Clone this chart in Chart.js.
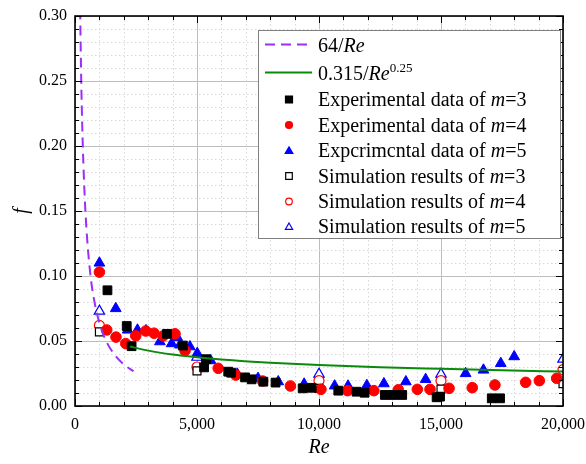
<!DOCTYPE html>
<html>
<head>
<meta charset="utf-8">
<script src="https://cdn.jsdelivr.net/npm/chart.js@4/dist/chart.umd.min.js"></script>
<style>
  body { margin: 0; background: #fff; }
  canvas { display: block; }
</style>
</head>
<body>
<canvas id="chart" width="586" height="464"></canvas>
<script>
// ---- data ----
// 64/Re (laminar)
const laminarRe = [210, 260, 320, 400, 500, 650, 800, 1000, 1250, 1600, 2000, 2400];
const laminarF  = [0.305, 0.246, 0.2, 0.16, 0.128, 0.098, 0.08, 0.064, 0.051, 0.04, 0.032, 0.0267];

// 0.315/Re^0.25
const blasiusRe = [2250, 3000, 4000, 5000, 6000, 8000, 10000, 12500, 15000, 17500, 20000];
const blasiusF  = [0.0458, 0.0426, 0.0396, 0.0375, 0.0358, 0.0333, 0.0315, 0.0298, 0.0286, 0.0275, 0.0265];

// experimental data
const expRe3 = [1330, 2120, 2320, 3770, 4420, 5290, 5370, 6280, 6400, 6970, 7240, 7720, 8220, 9330, 9700, 10790, 11540, 11870, 12700, 13050, 13410, 14820, 14960, 17080, 17420];
const expF3  = [0.089, 0.0615, 0.046, 0.0555, 0.0465, 0.0297, 0.036, 0.0264, 0.0256, 0.022, 0.0205, 0.0187, 0.018, 0.0136, 0.014, 0.0118, 0.011, 0.0102, 0.0085, 0.0085, 0.0085, 0.0067, 0.0072, 0.0059, 0.0059];

const expRe4 = [1000, 1300, 1680, 2080, 2490, 2900, 3240, 3620, 4100, 4510, 5870, 6590, 7690, 8830, 10080, 11170, 12250, 13250, 14030, 14550, 15330, 16280, 17210, 18470, 19030, 19740];
const expF4  = [0.103, 0.0585, 0.053, 0.048, 0.054, 0.0577, 0.056, 0.054, 0.0555, 0.0426, 0.029, 0.0238, 0.0192, 0.0154, 0.0128, 0.0118, 0.0118, 0.0125, 0.0128, 0.0128, 0.0136, 0.0141, 0.0162, 0.0182, 0.0195, 0.0213];

const expRe5 = [1000, 1670, 2160, 2560, 2910, 3480, 3960, 4190, 4300, 4710, 5010, 5560, 6650, 7500, 8330, 9390, 10640, 11190, 11960, 12660, 13560, 14370, 16010, 16740, 17450, 18000];
const expF5  = [0.110, 0.075, 0.0585, 0.0585, 0.058, 0.0495, 0.048, 0.0528, 0.047, 0.0456, 0.0405, 0.0349, 0.0246, 0.0213, 0.0187, 0.0169, 0.0155, 0.0154, 0.0158, 0.0172, 0.0187, 0.0205, 0.025, 0.0277, 0.0328, 0.038];

// simulation results
const simRe  = [1000, 5000, 10000, 15000, 20000];
const simF3  = [0.057, 0.027, 0.0136, 0.013, 0.0172];
const simF4  = [0.062, 0.030, 0.0195, 0.0195, 0.028];
const simF5  = [0.073, 0.0375, 0.0245, 0.0245, 0.036];

// legend text pieces: [text, style]  style: '' | 'i' (italic) | 's' (superscript)
const legendText = [
  [['64/', ''], ['Re', 'i']],
  [['0.315/', ''], ['Re', 'i'], ['0.25', 's']],
  [['Experimental data of ', ''], ['m', 'i'], ['=3', '']],
  [['Experimental data of ', ''], ['m', 'i'], ['=4', '']],
  [['Expcrimcntal data of ', ''], ['m', 'i'], ['=5', '']],
  [['Simulation results of ', ''], ['m', 'i'], ['=3', '']],
  [['Simulation results of ', ''], ['m', 'i'], ['=4', '']],
  [['Simulation results of ', ''], ['m', 'i'], ['=5', '']]
];

const SERIF = "'Liberation Serif', 'Times New Roman', serif";
const pts = (xs, ys) => xs.map((x, i) => ({ x, y: ys[i] }));

const PURPLE = '#9a30f5';
const GREEN = '#0a8a0a';

// ---- frame, minor grid, inside ticks and the custom legend ----
const framePlugin = {
  id: 'frame',
  beforeDatasetsDraw(chart) {
    const { ctx, chartArea: a, scales: { x, y } } = chart;
    ctx.save();
    ctx.strokeStyle = '#d8d8d8';
    ctx.lineWidth = 1;
    ctx.setLineDash([1.5, 2.5]);
    ctx.beginPath();
    for (let v = 1000; v < 20000; v += 1000) {
      if (v % 5000 === 0) continue;
      const px = Math.round(x.getPixelForValue(v)) + 0.5;
      ctx.moveTo(px, a.top); ctx.lineTo(px, a.bottom);
    }
    for (let i = 1; i < 30; i++) {
      if (i % 5 === 0) continue;
      const py = Math.round(y.getPixelForValue(i / 100)) + 0.5;
      ctx.moveTo(a.left, py); ctx.lineTo(a.right, py);
    }
    ctx.stroke();
    ctx.restore();
  },
  afterDraw(chart) {
    const { ctx, chartArea: a, scales: { x, y } } = chart;
    ctx.save();
    // inside ticks on all four sides
    ctx.strokeStyle = '#000';
    ctx.lineWidth = 1;
    ctx.beginPath();
    for (let v = 0; v <= 20000; v += 1000) {
      const px = Math.round(x.getPixelForValue(v)) + 0.5;
      const len = v % 5000 === 0 ? 7 : 4;
      ctx.moveTo(px, a.bottom); ctx.lineTo(px, a.bottom - len);
      ctx.moveTo(px, a.top); ctx.lineTo(px, a.top + len);
    }
    for (let i = 0; i <= 30; i++) {
      const py = Math.round(y.getPixelForValue(i / 100)) + 0.5;
      const len = i % 5 === 0 ? 7 : 4;
      ctx.moveTo(a.left, py); ctx.lineTo(a.left + len, py);
      ctx.moveTo(a.right, py); ctx.lineTo(a.right - len, py);
    }
    ctx.stroke();
    // frame
    ctx.lineWidth = 1.6;
    ctx.strokeRect(a.left, a.top, a.right - a.left, a.bottom - a.top);
    ctx.restore();

    drawLegend(chart);
  }
};

function drawMarker(ctx, style, cx, cy, r, fill, stroke) {
  ctx.beginPath();
  if (style === 'rect') {
    ctx.rect(cx - r, cy - r, 2 * r, 2 * r);
  } else if (style === 'circle') {
    ctx.arc(cx, cy, r, 0, Math.PI * 2);
  } else {
    ctx.moveTo(cx, cy - r * 1.05);
    ctx.lineTo(cx + r * 1.1, cy + r * 0.85);
    ctx.lineTo(cx - r * 1.1, cy + r * 0.85);
    ctx.closePath();
  }
  ctx.fillStyle = fill;
  ctx.fill();
  ctx.lineWidth = 1.2;
  ctx.strokeStyle = stroke;
  ctx.stroke();
}

function drawLegend(chart) {
  const ctx = chart.ctx;
  const bx = 258.5, by = 30.5, bw = 302, bh = 208;
  const rowY = [44.5, 72.5, 99, 124.5, 150, 175.5, 201, 226];
  ctx.save();
  ctx.fillStyle = '#fff';
  ctx.fillRect(bx, by, bw, bh);
  ctx.strokeStyle = '#808080';
  ctx.lineWidth = 1;
  ctx.strokeRect(bx, by, bw, bh);

  chart.data.datasets.forEach((ds, i) => {
    const cy = rowY[i];
    if (ds.showLine) {
      ctx.strokeStyle = ds.borderColor;
      ctx.lineWidth = 2;
      ctx.setLineDash(ds.borderDash || []);
      ctx.beginPath();
      ctx.moveTo(265, cy);
      ctx.lineTo(312, cy);
      ctx.stroke();
      ctx.setLineDash([]);
    } else {
      const open = ds.pointBackgroundColor === '#fff';
      drawMarker(ctx, ds.pointStyle, 289, cy + 0.5, open ? 3.3 : 3.5,
        ds.pointBackgroundColor, ds.pointBorderColor);
    }
    // text
    let tx = 318;
    const base = cy + 7;
    ctx.fillStyle = '#000';
    ctx.textBaseline = 'alphabetic';
    legendText[i].forEach(([t, s]) => {
      if (s === 's') {
        ctx.font = '13px ' + SERIF;
        ctx.fillText(t, tx, base - 8);
      } else {
        ctx.font = (s === 'i' ? 'italic ' : '') + '20px ' + SERIF;
        ctx.fillText(t, tx, base);
      }
      tx += ctx.measureText(t).width;
    });
  });
  ctx.restore();
}

const lineSet = (label, xs, ys, color, dash) => ({
  label, data: pts(xs, ys), showLine: true, borderColor: color, borderWidth: 2,
  borderDash: dash, pointRadius: 0, cubicInterpolationMode: 'monotone', fill: false
});
const markSet = (label, xs, ys, style, color, open, r) => ({
  label, data: pts(xs, ys), showLine: false, pointStyle: style, pointRadius: r,
  pointBackgroundColor: open ? '#fff' : color, pointBorderColor: color,
  pointBorderWidth: open ? 1.2 : 1, backgroundColor: open ? '#fff' : color, borderColor: color
});

new Chart(document.getElementById('chart'), {
  type: 'scatter',
  data: {
    datasets: [
      lineSet('64/Re', laminarRe, laminarF, PURPLE, [10, 6]),
      lineSet('0.315/Re^0.25', blasiusRe, blasiusF, GREEN, undefined),
      markSet('Experimental data of m=3', expRe3, expF3, 'rect', '#000', false, 6.2),
      markSet('Experimental data of m=4', expRe4, expF4, 'circle', '#ff0000', false, 5.3),
      markSet('Experimental data of m=5', expRe5, expF5, 'triangle', '#0000ff', false, 6.2),
      markSet('Simulation results of m=3', simRe, simF3, 'rect', '#000', true, 5.6),
      markSet('Simulation results of m=4', simRe, simF4, 'circle', '#ff0000', true, 5),
      markSet('Simulation results of m=5', simRe, simF5, 'triangle', '#0000ff', true, 6)
    ]
  },
  options: {
    responsive: false,
    animation: false,
    devicePixelRatio: 1,
    layout: { padding: { top: 16, right: 23, left: 0, bottom: 0 } },
    plugins: { legend: { display: false }, tooltip: { enabled: false } },
    scales: {
      x: {
        type: 'linear', min: 0, max: 20000,
        afterFit(s) { s.height = 58; s.paddingLeft = 0; s.paddingRight = 0; },
        ticks: {
          stepSize: 5000, padding: 9, color: '#000', maxRotation: 0, autoSkip: false,
          font: { family: SERIF, size: 16 },
          callback: (v) => v.toLocaleString('en-US')
        },
        grid: { color: '#bdbdbd', lineWidth: 1, drawTicks: false },
        border: { display: false },
        title: {
          display: true, text: 'Re', color: '#000',
          font: { family: SERIF, size: 20, style: 'italic' },
          padding: { top: 0, bottom: 4 }
        }
      },
      y: {
        type: 'linear', min: 0, max: 0.3,
        afterFit(s) { s.width = 75; s.paddingTop = 0; s.paddingBottom = 0; },
        ticks: {
          stepSize: 0.05, padding: 8, color: '#000',
          font: { family: SERIF, size: 16 },
          callback: (v) => Number(v).toFixed(2)
        },
        grid: { color: '#bdbdbd', lineWidth: 1, drawTicks: false },
        border: { display: false },
        title: {
          display: true, text: 'f', color: '#000',
          font: { family: SERIF, size: 20, style: 'italic' },
          padding: { top: 10, bottom: 0 }
        }
      }
    }
  },
  plugins: [framePlugin]
});
</script>
</body>
</html>
